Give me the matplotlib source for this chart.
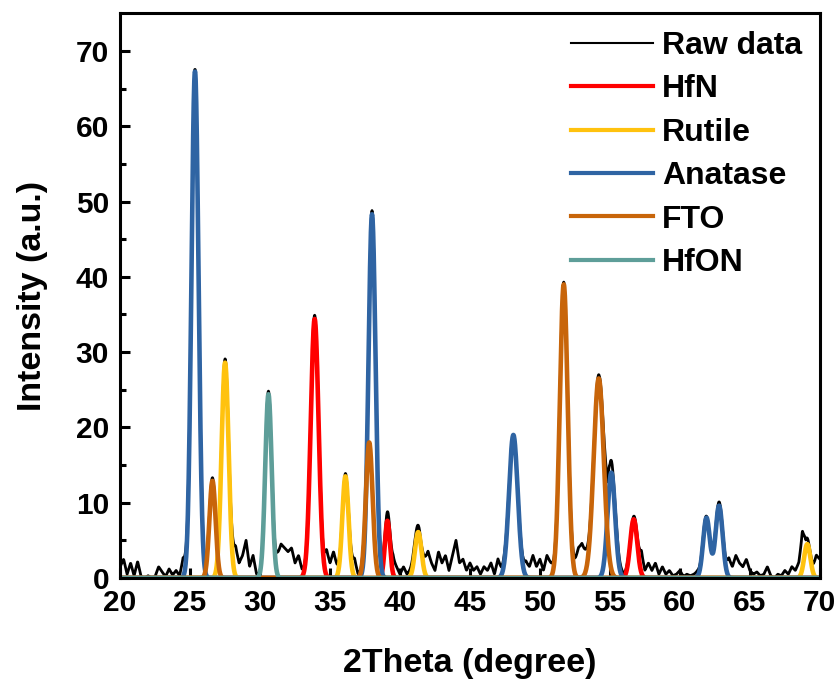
import numpy as np
import matplotlib
matplotlib.use('Agg')
import matplotlib.pyplot as plt

plt.rcParams['font.family'] = ['Liberation Sans', 'DejaVu Sans']
plt.rcParams['font.weight'] = 'bold'

# fitted peaks: centre (2theta), height, sigma
hfn_pos = [33.9, 39.1, 56.7]
hfn_amp = [34.4, 7.6, 7.8]
hfn_wid = [0.28, 0.18, 0.25]

rutile_pos = [27.5, 36.1, 41.3, 69.1]
rutile_amp = [28.6, 13.5, 6.1, 4.5]
rutile_wid = [0.25, 0.22, 0.23, 0.22]

anatase_pos = [25.35, 38.0, 48.1, 55.1, 61.9, 62.8]
anatase_amp = [67.3, 48.3, 19.0, 14.0, 8.0, 9.6]
anatase_wid = [0.25, 0.25, 0.31, 0.27, 0.24, 0.25]

fto_pos = [26.6, 37.8, 51.7, 54.2]
fto_amp = [12.9, 18.0, 39.0, 26.5]
fto_wid = [0.22, 0.24, 0.28, 0.36]

hfon_pos = [30.6]
hfon_amp = [24.4]
hfon_wid = [0.23]

resid = [1.5, 2.5, 0.5, 2.0, 0.3, 2.2, 0.2, 0.0, 0.3, 0.0,
         0.2, 1.5, 0.8, 0.2, 1.2, 0.4, 1.0, 0.3, 2.5, 1.5,
         0.5, 0.3, 0.3, 0.5, 0.8, 0.5, 0.5, 0.3, 0.5, 0.5,
         0.5, 1.0, 2.5, 4.0, 2.0, 3.0, 5.0, 1.5, 3.0, 0.5,
         0.3, 0.0, 0.5, 0.3, 1.0, 3.0, 4.5, 4.0, 3.5, 4.0,
         2.0, 3.0, 1.0, 0.5, 0.5, 0.5, 0.5, 0.5, 1.0, 3.5,
         2.0, 3.5, 1.5, 0.5, 0.3, 0.5, 1.5, 2.5, 0.5, 0.5,
         0.5, 0.5, 0.5, 0.5, 1.0, 1.5, 1.0, 1.5, 2.5, 1.5,
         0.5, 1.5, 0.5, 1.0, 1.5, 1.0, 0.5, 2.0, 3.5, 2.0,
         1.0, 3.5, 2.0, 3.0, 1.0, 3.0, 5.0, 2.0, 2.5, 1.0,
         2.0, 1.0, 1.5, 0.5, 1.5, 1.0, 2.0, 0.5, 2.5, 1.0,
         1.0, 0.5, 0.0, 0.0, 0.5, 1.0, 2.0, 1.5, 3.0, 1.5,
         2.5, 1.0, 3.0, 2.0, 1.0, 0.5, 0.3, 0.3, 0.5, 1.0,
         2.0, 4.0, 4.5, 3.0, 1.5, 0.5, 0.5, 0.5, 2.0, 6.0,
         2.0, 1.0, 1.5, 1.0, 0.5, 0.5, 0.0, 0.5, 1.0, 3.0,
         1.0, 2.0, 1.0, 2.0, 0.5, 1.5, 0.5, 1.0, 0.3, 0.5,
         1.0, 0.2, 0.5, 0.3, 0.5, 0.8, 0.5, 0.5, 0.0, 0.0,
         0.5, 0.5, 0.5, 1.0, 2.5, 1.5, 3.0, 2.0, 1.5, 2.5,
         1.0, 0.5, 0.8, 0.3, 0.5, 1.5, 0.3, 0.0, 0.5, 0.3,
         1.0, 0.5, 1.5, 1.0, 2.0, 5.0, 1.0, 0.5, 1.0, 3.0,
         2.5]
resid_x = np.linspace(20, 70, len(resid))

labels = ['HfN', 'Rutile', 'Anatase', 'FTO', 'HfON']
colors = ['#FF0000', '#FFC20E', '#2F64A3', '#C8650A', '#5E9E99']


def peaks(x, pos, amp, wid):
    y = np.zeros_like(x)
    for p, a, w in zip(pos, amp, wid):
        y += a * np.exp(-(x - p) ** 2 / (2 * w ** 2))
    return y


x = np.linspace(20, 70, 2501)
comps = [peaks(x, hfn_pos, hfn_amp, hfn_wid),
         peaks(x, rutile_pos, rutile_amp, rutile_wid),
         peaks(x, anatase_pos, anatase_amp, anatase_wid),
         peaks(x, fto_pos, fto_amp, fto_wid),
         peaks(x, hfon_pos, hfon_amp, hfon_wid)]
raw = np.max(comps, axis=0) + np.interp(x, resid_x, resid)

fig = plt.figure(figsize=(8.4, 6.82), dpi=100)
ax = fig.add_axes([0.143, 0.1525, 0.833, 0.828])

ax.plot(x, raw, color='black', lw=2.0, label='Raw data')
for y, lab, c in zip(comps, labels, colors):
    ax.plot(x, y, color=c, lw=3.3, label=lab)

ax.set_xlim(20, 70)
ax.set_ylim(0, 75)
ax.set_xticks(np.arange(20, 71, 5))
ax.set_yticks(np.arange(0, 71, 10))
ax.set_yticks(np.arange(5, 75, 10), minor=True)
ax.tick_params(axis='both', which='major', direction='in', length=7, width=2.2,
               labelsize=21.5, pad=8)
ax.tick_params(axis='y', which='minor', direction='in', length=4, width=2.2)
ax.tick_params(top=False, right=False)
for s in ax.spines.values():
    s.set_linewidth(2.2)

ax.set_xlabel('2Theta (degree)', fontsize=24.5, fontweight='bold', labelpad=22)
ax.set_ylabel('Intensity (a.u.)', fontsize=24.5, fontweight='bold', labelpad=20)

leg = ax.legend(loc='upper right', frameon=False, fontsize=23, handlelength=2.55,
                handletextpad=0.3, labelspacing=0.42, borderaxespad=0.15,
                bbox_to_anchor=(1.0, 1.0))
for line in leg.get_lines():
    line.set_linewidth(3.0)
leg.get_lines()[0].set_linewidth(1.5)

fig.savefig('out.png', dpi=100)
